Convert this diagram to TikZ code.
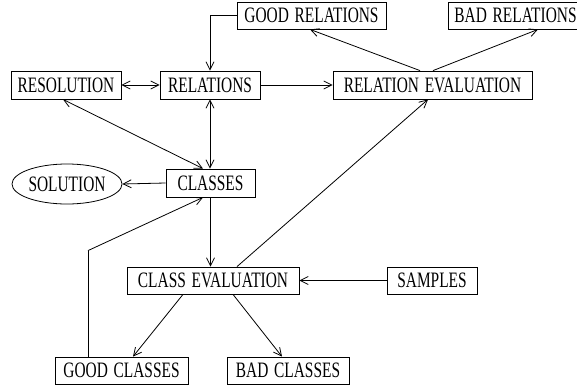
\documentclass[tikz,border=0pt]{standalone}
\usepackage{fontspec}
\setmainfont{Liberation Serif}[FakeStretch=0.70,WordSpace=1.5]
\usetikzlibrary{arrows.meta,shapes.geometric}
\tikzset{
  box/.style={draw, line width=0.8pt, inner sep=0pt, font=\fontsize{22}{26}\selectfont},
  oval/.style={draw, ellipse, line width=0.8pt, inner sep=0pt, font=\fontsize{22}{26}\selectfont},
  arr/.style={line width=0.8pt, -{Straight Barb[length=8pt,width=8pt,line width=0.8pt]}},
  darr/.style={line width=0.8pt, {Straight Barb[length=8pt,width=8pt,line width=0.8pt]}-{Straight Barb[length=8pt,width=8pt,line width=0.8pt]}},
  ln/.style={line width=0.8pt}
}
\begin{document}
\begin{tikzpicture}[x=1pt,y=-1pt]
\clip (0,0) rectangle (577,385);
\fill[white] (0,0) rectangle (577,385);
\node[box, minimum width=149pt, minimum height=27pt] (gr) at (311.5,15.5) {GOOD RELATIONS};
\node[box, minimum width=135pt, minimum height=27pt] (br) at (515.5,15.5) {BAD RELATIONS};
\node[box, minimum width=110pt, minimum height=28pt] (res) at (66,85) {RESOLUTION};
\node[box, minimum width=100pt, minimum height=28pt] (rel) at (210,85) {RELATIONS};
\node[box, minimum width=199pt, minimum height=28pt] (re) at (432.5,85) {RELATION EVALUATION};
\node[oval, minimum width=110pt, minimum height=40pt] (sol) at (67,184) {SOLUTION};
\node[box, minimum width=89pt, minimum height=28pt] (cls) at (210.5,183) {CLASSES};
\node[box, minimum width=172pt, minimum height=27pt] (ce) at (213,280.5) {CLASS EVALUATION};
\node[box, minimum width=90pt, minimum height=27pt] (sam) at (432,280.5) {SAMPLES};
\node[box, minimum width=133pt, minimum height=27pt] (gc) at (121.5,370.5) {GOOD CLASSES};
\node[box, minimum width=122pt, minimum height=27pt] (bc) at (288,370.5) {BAD CLASSES};

\draw[arr] (gr.west) -| (rel.north);
\draw[darr] (res.east) -- (rel.west);
\draw[darr] ([xshift=-3pt]res.south) -- ([xshift=-7.5pt]cls.north);
\draw[darr] (rel.south) -- (rel.south |- cls.north);
\draw[arr] (rel.east) -- (re.west);
\draw[arr] ([xshift=-12.5pt]re.north) -- ([xshift=-1.5pt]gr.south);
\draw[arr] ([xshift=0.5pt]re.north) -- ([xshift=22.5pt]br.south);
\draw[arr] (cls.west) -- (sol.east);
\draw[arr] (cls.south) -- (cls.south |- ce.north);
\draw[arr] ([xshift=24pt]ce.north) -- ([xshift=-4.5pt]re.south);
\coordinate (bend) at ([xshift=-33.5pt,yshift=106pt]gc.north);
\draw[ln] ([xshift=-33.5pt]gc.north) -- (bend);
\draw[arr] (bend) -- ([xshift=-7.5pt]cls.south);
\draw[arr] ([xshift=-30pt]ce.south) -- ([xshift=11.5pt]gc.north);
\draw[arr] ([xshift=20pt]ce.south) -- ([xshift=-6pt]bc.north);
\draw[arr] (sam.west) -- (ce.east);
\end{tikzpicture}
\end{document}
